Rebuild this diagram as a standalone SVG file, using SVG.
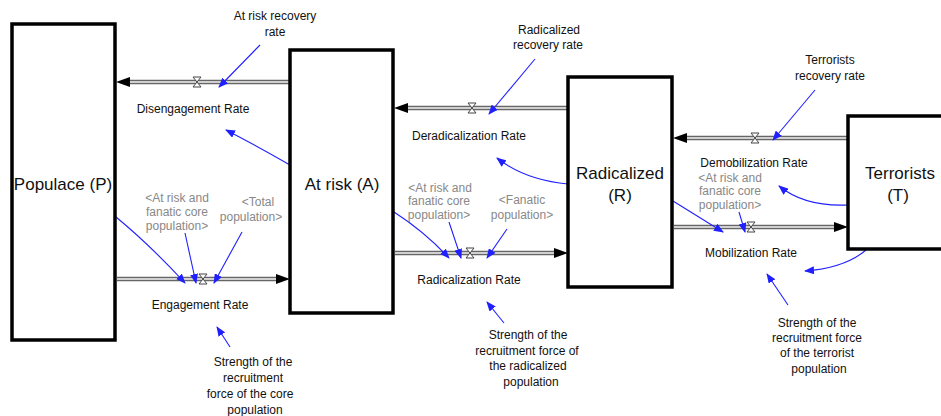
<svg xmlns="http://www.w3.org/2000/svg" width="941" height="416" viewBox="0 0 941 416">
<style>
text{font-family:"Liberation Sans",Arial,sans-serif;fill:#111;text-anchor:middle}
.s{font-size:12px}
.g{font-size:12px;fill:#888}
.b{font-size:17px}
.stock{fill:#fff;stroke:#000;stroke-width:3.5}
.pipeo{stroke:#666;stroke-width:4.5;fill:none}
.pipei{stroke:#f4f4f4;stroke-width:1.6;fill:none}
.valve{fill:#fff;stroke:#444;stroke-width:1}
.ln{stroke:#2020ff;stroke-width:1.1;fill:none;marker-end:url(#ba)}
</style>
<defs>
<marker id="ba" markerUnits="userSpaceOnUse" markerWidth="10" markerHeight="8" refX="9" refY="4" orient="auto"><path d="M0,0 L10,4 L0,8 Z" fill="#2020ff"/></marker>
<marker id="fa" markerUnits="userSpaceOnUse" markerWidth="14" markerHeight="10" refX="13" refY="5" orient="auto"><path d="M0,0 L14,5 L0,10 Z" fill="#000"/></marker>
</defs>
<rect width="941" height="416" fill="#fff"/>
<g id="connectors">
<g id="flow-disengagement"><path class="pipeo" d="M290,82 H128"/><path class="pipei" d="M290,82 H128"/><path d="M290,82 H117" stroke="none" fill="none" marker-end="url(#fa)"/><path class="valve" d="M193,77 H201 L193,87 H201 Z"/></g>
<g id="flow-engagement"><path class="pipeo" d="M117,279 H278"/><path class="pipei" d="M117,279 H278"/><path d="M117,279 H289" stroke="none" fill="none" marker-end="url(#fa)"/><path class="valve" d="M199,274 H207 L199,284 H207 Z"/></g>
<g id="flow-deradicalization"><path class="pipeo" d="M568,108 H406"/><path class="pipei" d="M568,108 H406"/><path d="M568,108 H395" stroke="none" fill="none" marker-end="url(#fa)"/><path class="valve" d="M468,103 H476 L468,113 H476 Z"/></g>
<g id="flow-radicalization"><path class="pipeo" d="M395,253 H556"/><path class="pipei" d="M395,253 H556"/><path d="M395,253 H567" stroke="none" fill="none" marker-end="url(#fa)"/><path class="valve" d="M466,248 H474 L466,258 H474 Z"/></g>
<g id="flow-demobilization"><path class="pipeo" d="M848,138 H686"/><path class="pipei" d="M848,138 H686"/><path d="M848,138 H674" stroke="none" fill="none" marker-end="url(#fa)"/><path class="valve" d="M751,133 H759 L751,143 H759 Z"/></g>
<g id="flow-mobilization"><path class="pipeo" d="M674,227 H836"/><path class="pipei" d="M674,227 H836"/><path d="M674,227 H847" stroke="none" fill="none" marker-end="url(#fa)"/><path class="valve" d="M747,222 H755 L747,232 H755 Z"/></g>
<path class="ln" d="M260,45 L219,87"/>
<path class="ln" d="M290,165 Q255,145 226,130"/>
<path class="ln" d="M116,217 Q150,245 185,283"/>
<path class="ln" d="M185,233 L196,283"/>
<path class="ln" d="M242,232 L214,283"/>
<path class="ln" d="M230,347 L217,327"/>
<path class="ln" d="M535,59 L489,114"/>
<path class="ln" d="M568,184 Q525,180 497,158"/>
<path class="ln" d="M394,212 Q425,232 449,258"/>
<path class="ln" d="M449,222 L461,258"/>
<path class="ln" d="M507,229 L487,258"/>
<path class="ln" d="M504,323 L487,302"/>
<path class="ln" d="M815,90 L773,140"/>
<path class="ln" d="M848,205 Q805,207 779,186"/>
<path class="ln" d="M673,201 L723,232"/>
<path class="ln" d="M739,212 L745,232"/>
<path class="ln" d="M866,250 Q845,268 805,271"/>
<path class="ln" d="M788,305 L767,274"/>
</g>
<g id="populace"><rect class="stock" x="12" y="24" width="103" height="316"/><text class="b" x="63" y="190">Populace (P)</text></g>
<g id="atrisk"><rect class="stock" x="290" y="50" width="103" height="263"/><text class="b" x="342" y="190">At risk (A)</text></g>
<g id="radicalized"><rect class="stock" x="568" y="77" width="104" height="210"/><text class="b" x="620" y="179">Radicalized</text><text class="b" x="620" y="201">(R)</text></g>
<g id="terrorists"><rect class="stock" x="848" y="116" width="100" height="133"/><text class="b" x="900" y="179">Terrorists</text><text class="b" x="898" y="201">(T)</text></g>
<g id="labels">
<text class="s" x="275" y="20">At risk recovery</text><text class="s" x="275" y="36">rate</text>
<text class="s" x="193" y="113">Disengagement Rate</text>
<text class="g" x="177" y="202">&lt;At risk and</text><text class="g" x="177" y="216">fanatic core</text><text class="g" x="177" y="230">population&gt;</text>
<text class="g" x="258" y="206">&lt;Total</text><text class="g" x="251" y="221">population&gt;</text>
<text class="s" x="200" y="309">Engagement Rate</text>
<text class="s" x="253" y="366">Strength of the</text><text class="s" x="253" y="382">recruitment</text><text class="s" x="250" y="398">force of the core</text><text class="s" x="255" y="414">population</text>
<text class="s" x="549" y="34">Radicalized</text><text class="s" x="548" y="49">recovery rate</text>
<text class="s" x="469" y="140">Deradicalization Rate</text>
<text class="g" x="440" y="192">&lt;At risk and</text><text class="g" x="439" y="205">fanatic core</text><text class="g" x="439" y="219">population&gt;</text>
<text class="g" x="522" y="204">&lt;Fanatic</text><text class="g" x="522" y="219">population&gt;</text>
<text class="s" x="469" y="284">Radicalization Rate</text>
<text class="s" x="528" y="339">Strength of the</text><text class="s" x="527" y="355">recruitment force of</text><text class="s" x="528" y="370">the radicalized</text><text class="s" x="531" y="386">population</text>
<text class="s" x="830" y="64">Terrorists</text><text class="s" x="830" y="80">recovery rate</text>
<text class="s" x="754" y="167">Demobilization Rate</text>
<text class="g" x="730" y="182">&lt;At risk and</text><text class="g" x="730" y="195">fanatic core</text><text class="g" x="730" y="209">population&gt;</text>
<text class="s" x="751" y="257">Mobilization Rate</text>
<text class="s" x="817" y="327">Strength of the</text><text class="s" x="817" y="342">recruitment force</text><text class="s" x="817" y="357">of the terrorist</text><text class="s" x="819" y="373">population</text>
</g>
</svg>
